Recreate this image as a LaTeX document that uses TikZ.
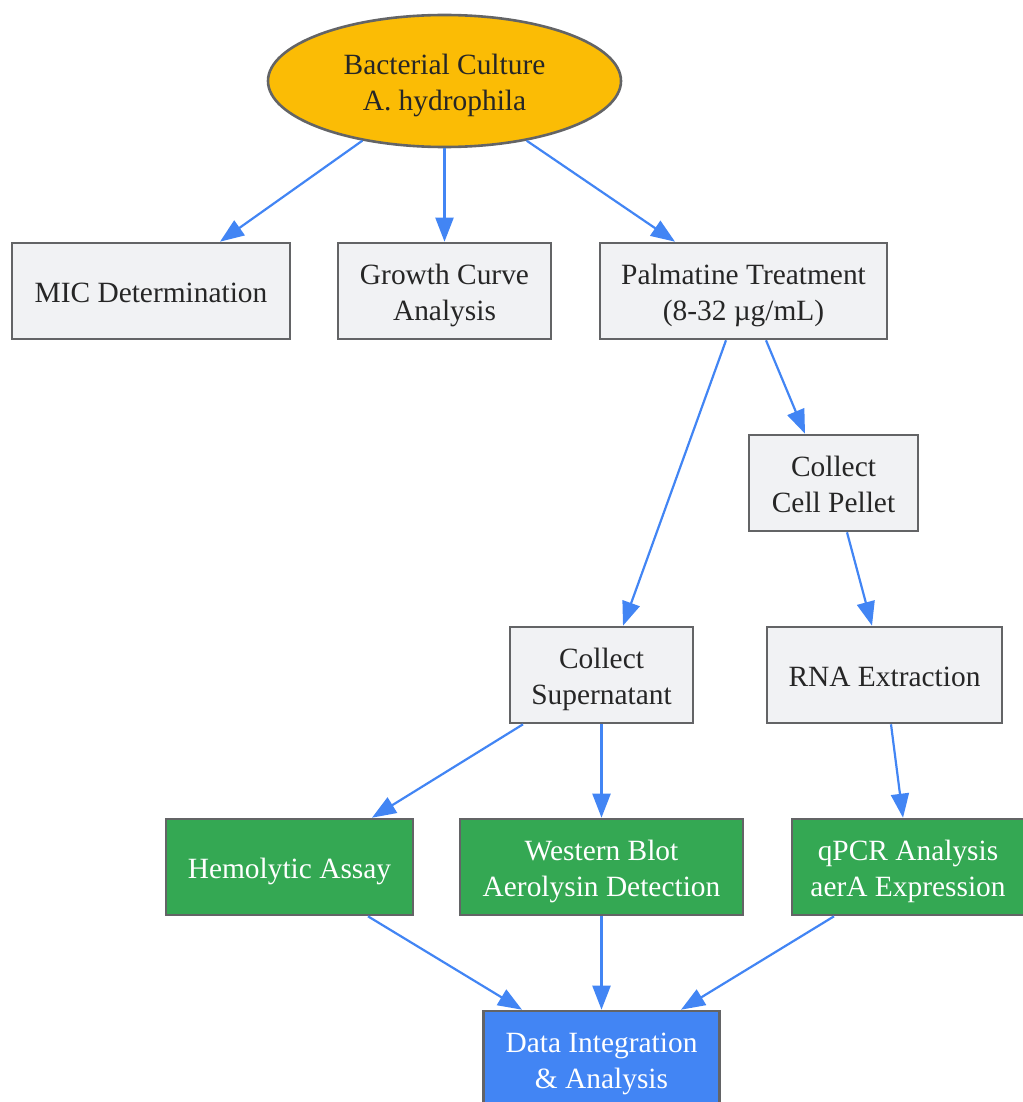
\documentclass[tikz,border=0pt]{standalone}
\usepackage{fontspec}
\setmainfont{Liberation Serif}
\usetikzlibrary{shapes.geometric,arrows.meta}
\definecolor{edgeblue}{HTML}{4285F4}
\definecolor{boxgray}{HTML}{F1F2F4}
\definecolor{strokegray}{HTML}{636466}
\definecolor{ygold}{HTML}{FBBC05}
\definecolor{ggreen}{HTML}{34A853}
\definecolor{txt}{HTML}{262626}
\begin{document}
\begin{tikzpicture}[x=1pt,y=-1pt,
  every node/.style={font=\fontsize{29.4}{36}\selectfont, align=center, inner sep=0pt, text height=30.6pt, text depth=8pt},
  twoline/.style={text height=66.6pt, text depth=8pt},
  plainbox/.style={rectangle, draw=strokegray, line width=2.6pt, fill=boxgray, text=txt, minimum height=96pt},
  greenbox/.style={rectangle, draw=strokegray, line width=2.6pt, fill=ggreen, text=white, minimum height=96pt},
  bluebox/.style={rectangle, draw=strokegray, line width=2.6pt, fill=edgeblue, text=white, minimum height=96pt},
  startnode/.style={ellipse, draw=strokegray, line width=2.6pt, fill=ygold, text=txt, minimum width=353pt, minimum height=132pt},
  conn/.style={draw=edgeblue, line width=2.2pt, -{Triangle[length=24pt,width=18pt]}}
]
\useasboundingbox (0,0) rectangle (1022,1102);
\node[startnode, twoline] (e) at (444.5,81) {Bacterial Culture\\A. hydrophila};
\node[plainbox, minimum width=278pt] (mic) at (151,291) {MIC Determination};
\node[plainbox, twoline, minimum width=213pt] (growth) at (444.5,291) {Growth Curve\\Analysis};
\node[plainbox, twoline, minimum width=287pt] (palm) at (743.5,291) {Palmatine Treatment\\(8-32 µg/mL)};
\node[plainbox, twoline, minimum width=169pt] (pellet) at (833.5,483) {Collect\\Cell Pellet};
\node[plainbox, twoline, minimum width=183pt] (super) at (601.5,675) {Collect\\Supernatant};
\node[plainbox, minimum width=235pt] (rna) at (884.5,675) {RNA Extraction};
\node[greenbox, minimum width=247pt] (hemo) at (289.5,867) {Hemolytic Assay};
\node[greenbox, twoline, minimum width=283pt] (western) at (601.5,867) {Western Blot\\Aerolysin Detection};
\node[greenbox, twoline, minimum width=232pt] (qpcr) at (908,867) {qPCR Analysis\\aerA Expression};
\node[bluebox, twoline, minimum width=236pt] (data) at (601.5,1059) {Data Integration\\\& Analysis};

\draw[conn] (e.216.6) -- ([xshift=69pt]mic.north);
\draw[conn] (e.south) -- (growth.north);
\draw[conn] (e.-36.3) -- ([xshift=-68.5pt]palm.north);
\draw[conn] ([xshift=-17.5pt]palm.south) -- ([xshift=21.5pt]super.north);
\draw[conn] ([xshift=22.5pt]palm.south) -- ([xshift=-28.5pt]pellet.north);
\draw[conn] ([xshift=13.5pt]pellet.south) -- ([xshift=-12.5pt]rna.north);
\draw[conn] ([xshift=-78.5pt]super.south) -- ([xshift=82.5pt]hemo.north);
\draw[conn] (super.south) -- (western.north);
\draw[conn] ([xshift=6.5pt]rna.south) -- ([xshift=-5pt]qpcr.north);
\draw[conn] ([xshift=78.5pt]hemo.south) -- ([xshift=-79.5pt]data.north);
\draw[conn] (western.south) -- (data.north);
\draw[conn] ([xshift=-74pt]qpcr.south) -- ([xshift=79.5pt]data.north);
\end{tikzpicture}
\end{document}
